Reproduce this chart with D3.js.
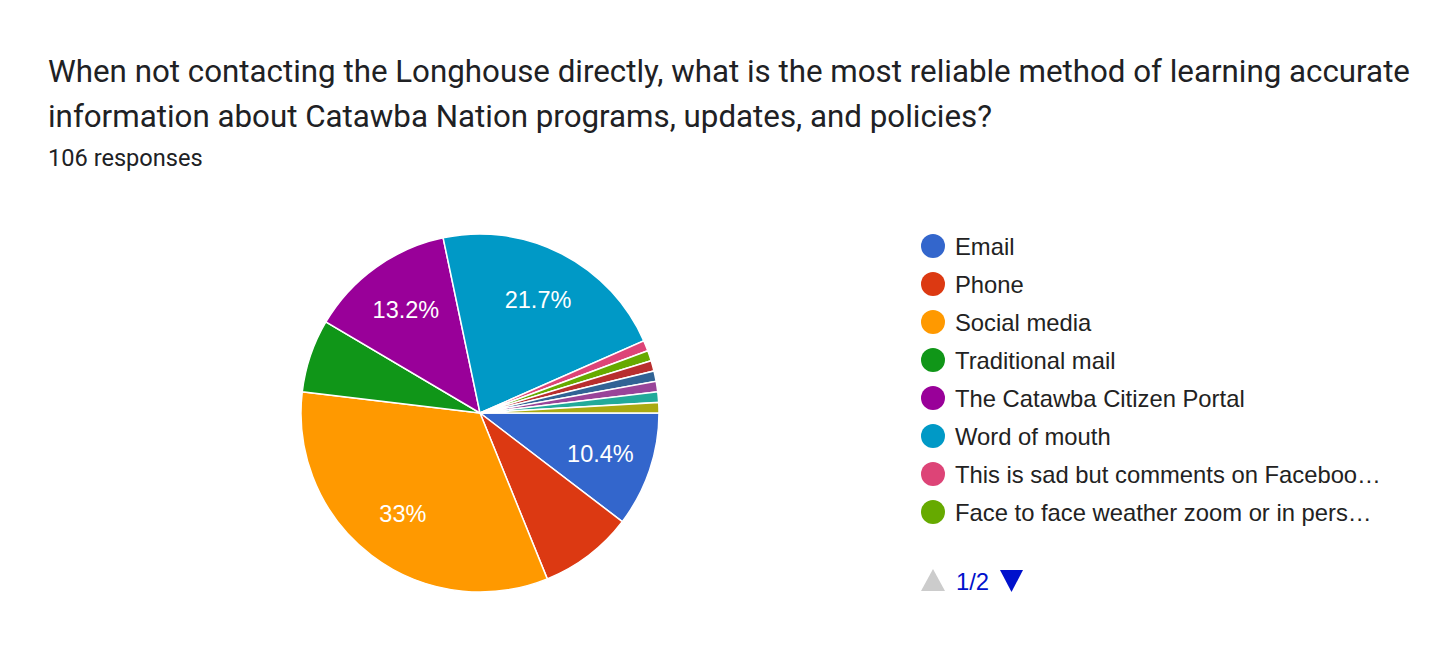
<!DOCTYPE html>
<html>
<head>
<meta charset="utf-8">
<script src="https://cdn.jsdelivr.net/npm/d3@7"></script>
<style>
  body { margin: 0; background: #fff; }
  svg { display: block; }
</style>
</head>
<body>
<svg id="chart" width="1456" height="660"></svg>
<script>
var titleLines = [
  "When not contacting the Longhouse directly, what is the most reliable method of learning accurate",
  "information about Catawba Nation programs, updates, and policies?"
];
var subtitle = "106 responses";

var categories = [
  "Email", "Phone", "Social media", "Traditional mail", "The Catawba Citizen Portal",
  "Word of mouth", "This is sad but comments on Facebook", "Face to face weather zoom or in person",
  "Other answer 1", "Other answer 2", "Other answer 3", "Other answer 4", "Other answer 5"
];
var counts = [11, 9, 35, 7, 14, 23, 1, 1, 1, 1, 1, 1, 1];
var legendLabels = [
  "Email", "Phone", "Social media", "Traditional mail", "The Catawba Citizen Portal",
  "Word of mouth", "This is sad but comments on Faceboo\u2026", "Face to face weather zoom or in pers\u2026"
];
var palette = ["#3366cc", "#dc3912", "#ff9900", "#109618", "#990099", "#0099c6",
  "#dd4477", "#66aa00", "#b82e2e", "#316395", "#994499", "#22aa99", "#aaaa11"];

var svg = d3.select("#chart");

// title
svg.selectAll("text.title")
  .data(titleLines)
  .enter().append("text")
  .attr("class", "title")
  .attr("x", 48)
  .attr("y", function (d, i) { return 82 + i * 45; })
  .style("font-family", "Roboto, sans-serif")
  .style("font-size", "31.3px")
  .style("fill", "#202124")
  .text(function (d) { return d; });

svg.append("text")
  .attr("x", 48)
  .attr("y", 166)
  .style("font-family", "Roboto, sans-serif")
  .style("font-size", "23.6px")
  .style("fill", "#202124")
  .text(subtitle);

// pie
var cx = 480, cy = 413, radius = 179;
var total = d3.sum(counts);
var color = d3.scaleOrdinal().domain(categories).range(palette);

var pie = d3.pie()
  .sort(null)
  .value(function (d) { return d.value; })
  .startAngle(Math.PI / 2)
  .endAngle(Math.PI / 2 + 2 * Math.PI);

var arc = d3.arc().innerRadius(0).outerRadius(radius);
var labelArc = d3.arc().innerRadius(radius * 0.71).outerRadius(radius * 0.71);

var data = categories.map(function (c, i) { return { name: c, value: counts[i] }; });
var arcs = pie(data);

var g = svg.append("g").attr("transform", "translate(" + cx + "," + cy + ")");

g.selectAll("path")
  .data(arcs)
  .enter().append("path")
  .attr("d", arc)
  .attr("fill", function (d) { return color(d.data.name); })
  .attr("stroke", "#fff")
  .attr("stroke-width", 1.5);

g.selectAll("text.pct")
  .data(arcs.filter(function (d) { return d.data.value / total >= 0.1; }))
  .enter().append("text")
  .attr("class", "pct")
  .attr("transform", function (d) { return "translate(" + labelArc.centroid(d) + ")"; })
  .attr("text-anchor", "middle")
  .attr("dy", "0.36em")
  .style("font-family", "Arial, 'Liberation Sans', sans-serif")
  .style("font-size", "23.5px")
  .style("fill", "#fff")
  .text(function (d) {
    var p = Math.round(d.data.value / total * 1000) / 10;
    return p + "%";
  });

// legend
var legend = svg.append("g").attr("transform", "translate(933,246)");
var rows = legend.selectAll("g")
  .data(legendLabels)
  .enter().append("g")
  .attr("transform", function (d, i) { return "translate(0," + i * 38 + ")"; });

rows.append("circle")
  .attr("r", 12)
  .attr("fill", function (d, i) { return palette[i]; });

rows.append("text")
  .attr("x", 22)
  .attr("dy", "0.36em")
  .style("font-family", "Arial, 'Liberation Sans', sans-serif")
  .style("font-size", "23.8px")
  .style("fill", "#222")
  .text(function (d) { return d; });

// pager
var pager = svg.append("g").attr("transform", "translate(933,581)");
pager.append("path")
  .attr("d", "M-12,10 L0,-12 L12,10 Z")
  .attr("fill", "#cccccc");
pager.append("text")
  .attr("x", 23)
  .attr("dy", "0.36em")
  .style("font-family", "Arial, 'Liberation Sans', sans-serif")
  .style("font-size", "23.8px")
  .style("fill", "#0011cc")
  .text("1/2");
pager.append("path")
  .attr("d", "M67,-11 L90,-11 L78.5,11 Z")
  .attr("fill", "#0011cc");
</script>
</body>
</html>
